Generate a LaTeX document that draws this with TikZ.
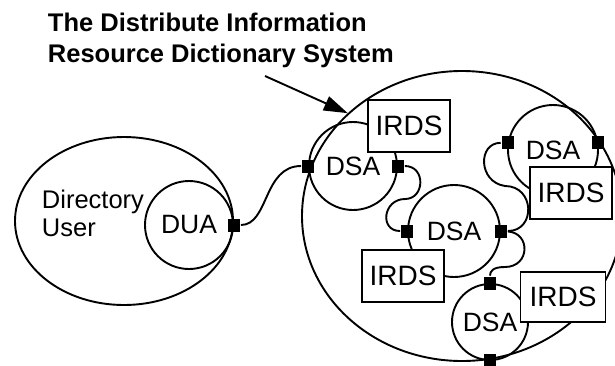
\documentclass[tikz,border=0pt]{standalone}
\usepackage{fontspec}
\setmainfont{Liberation Sans}
\usetikzlibrary{shapes.geometric,arrows.meta}
\begin{document}
\begin{tikzpicture}[x=1pt, y=-1pt, line width=1.9pt,
      agent/.style={shape=circle, draw=black, inner sep=0pt, font=\fontsize{26.5}{28}\selectfont},
      irds/.style={shape=rectangle, draw=black, fill=white, line width=1.5pt, inner sep=0pt,
        minimum width=82pt, minimum height=52pt, font=\fontsize{28}{30}\selectfont},
      port/.style={shape=rectangle, fill=black, inner sep=0pt, minimum width=12pt, minimum height=13pt}]
      \useasboundingbox (0,0) rectangle (615,365);

      \node[font=\bfseries\fontsize{25.5}{31}\selectfont, align=left, anchor=north west, inner sep=0pt] (title) at (47,12) {The Distribute Information\\Resource Dictionary System};

      \node[shape=ellipse, draw=black, minimum width=218pt, minimum height=168pt] (user) at (124,221) {};
      \node[shape=ellipse, draw=black, minimum width=320pt, minimum height=290pt] (system) at (462,216) {};
      \node[font=\fontsize{25.5}{28}\selectfont, align=left, anchor=north west, inner sep=0pt] (usertext) at (41,189) {Directory\\User};

      \node[agent, minimum size=88pt] (dua) at (189,225) {DUA};
      \node[agent, minimum size=88pt] (dsa1) at (353,166) {DSA};
      \node[agent, minimum size=92pt] (dsa2) at (454,231) {DSA};
      \node[agent, minimum size=90pt] (dsa3) at (553,150) {DSA};
      \node[agent, minimum size=76pt] (dsa4) at (490,322) {DSA};

      \coordinate (pointer) at (265,76);
      \draw[-{Triangle[length=24pt,width=15pt]}] (pointer) -- (system.138);

      \node[port] (duaport) at (dua.east) {};
      \node[port] (dsa1w) at (dsa1.west) {};
      \node[port] (dsa1e) at (dsa1.east) {};
      \node[port] (dsa2w) at (dsa2.west) {};
      \node[port] (dsa2e) at (dsa2.east) {};
      \node[port] (dsa3w) at (dsa3.171) {};
      \node[port] (dsa3e) at (dsa3.9) {};
      \node[port] (dsa4n) at (dsa4.north) {};
      \node[port] (dsa4s) at (dsa4.south) {};

      \draw (duaport) .. controls +(35,0) and +(-45,0) .. (dsa1w);
      \draw (dsa1e) .. controls +(28,0) and +(20,0) .. (405,199) .. controls +(-22,0) and +(-28,0) .. (dsa2w);
      \draw (dsa2e) .. controls +(35,0) and +(30,0) .. (505,186) .. controls +(-27,-4) and +(-30,0) .. (dsa3w);
      \draw (dsa2e) .. controls +(30,2) and +(25,0) .. (505,267) .. controls +(-12,0) and +(0,-12) .. (dsa4n);

      \node[irds] (irds1) at (409,126) {IRDS};
      \node[irds] (irds2) at (403,276) {IRDS};
      \node[irds] (irds3) at (571,193) {IRDS};
      \node[irds, minimum width=85pt, minimum height=50pt] (irds4) at (563,297) {IRDS};

      \node[port] at (dsa1e) {};
      \node[port] at (dsa2w) {};
      \node[port] at (dsa4n) {};

      \end{tikzpicture}
\end{document}
